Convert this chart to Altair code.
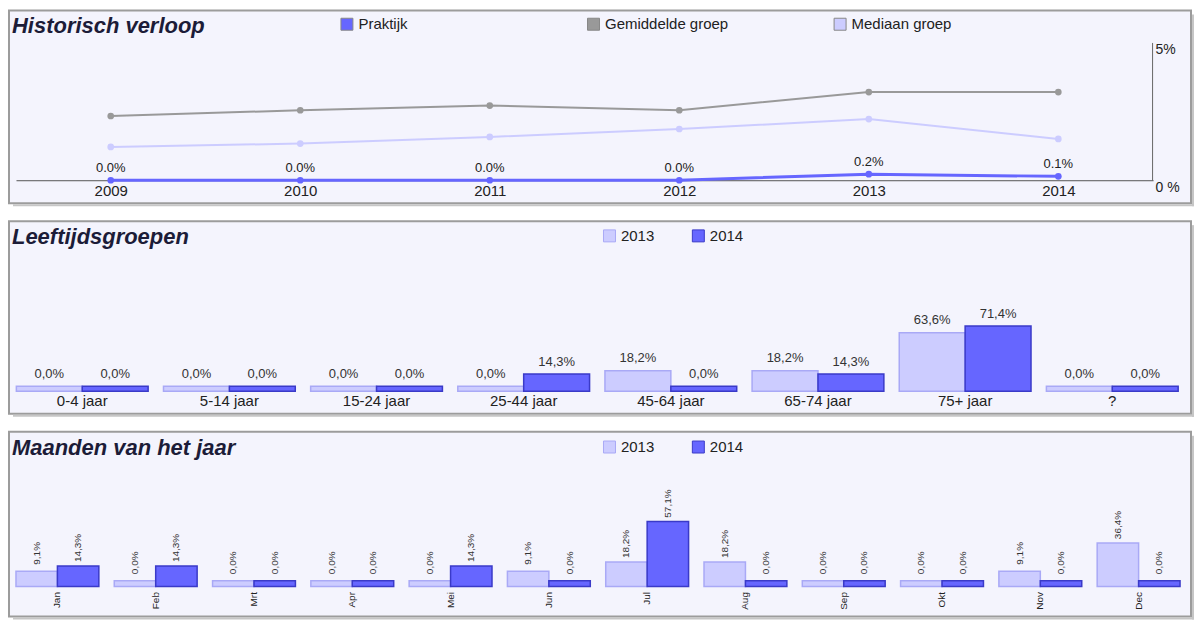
import altair as alt
import pandas as pd

# ---------------- data ----------------
years = [2009, 2010, 2011, 2012, 2013, 2014]
praktijk = [0.0, 0.0, 0.0, 0.0, 0.22, 0.14]
gemiddelde = [2.33, 2.54, 2.71, 2.54, 3.20, 3.20]
mediaan = [1.21, 1.33, 1.57, 1.86, 2.22, 1.50]
series_names = ["Praktijk", "Gemiddelde groep", "Mediaan groep"]
series_colors = ["#6666ff", "#999999", "#ccccff"]
series_widths = [3, 2, 2]

age_groups = ["0-4 jaar", "5-14 jaar", "15-24 jaar", "25-44 jaar",
              "45-64 jaar", "65-74 jaar", "75+ jaar", "?"]
age_2013 = [0.0, 0.0, 0.0, 0.0, 18.2, 18.2, 63.6, 0.0]
age_2014 = [0.0, 0.0, 0.0, 14.3, 0.0, 14.3, 71.4, 0.0]

months = ["Jan", "Feb", "Mrt", "Apr", "Mei", "Jun",
          "Jul", "Aug", "Sep", "Okt", "Nov", "Dec"]
month_2013 = [9.1, 0.0, 0.0, 0.0, 0.0, 9.1, 18.2, 18.2, 0.0, 0.0, 9.1, 36.4]
month_2014 = [14.3, 14.3, 0.0, 0.0, 14.3, 0.0, 57.1, 0.0, 0.0, 0.0, 0.0, 0.0]

bar_years = ["2013", "2014"]
bar_fill = ["#ccccff", "#6666ff"]
bar_stroke = ["#a9a9f6", "#3a3ac8"]

titles = ["Historisch verloop", "Leeftijdsgroepen", "Maanden van het jaar"]

# ---------------- styling ----------------
W = 1184
H1, H2, H3 = 193, 193, 185
FONT = "Liberation Sans"
TXT = "#222222"
SHADOW = "#c6c6c6"


def title_layer(text):
    return alt.Chart(pd.DataFrame({"t": [text]})).mark_text(
        align="left", baseline="alphabetic", fontSize=22, fontStyle="italic",
        fontWeight="bold", color="#1c1c38", font=FONT).encode(
        x=alt.value(3), y=alt.value(23), text="t:N")


def shadow_layers(w, h):
    base = alt.Chart(pd.DataFrame({"s": [0]}))
    right = base.mark_rect(color=SHADOW).encode(
        x=alt.value(w + 1), x2=alt.value(w + 3),
        y=alt.value(4), y2=alt.value(h + 3))
    bottom = base.mark_rect(color=SHADOW).encode(
        x=alt.value(4), x2=alt.value(w + 3),
        y=alt.value(h + 1), y2=alt.value(h + 3))
    return [right, bottom]


def square_legend(lx, ly, col_pad, grid="each"):
    return alt.Legend(title=None, orient="none", legendX=lx, legendY=ly,
                      direction="horizontal", symbolType="square",
                      symbolSize=144, symbolStrokeColor="#888888",
                      symbolStrokeWidth=1, labelFontSize=15,
                      labelColor=TXT, labelOffset=4, columnPadding=col_pad,
                      gridAlign=grid, padding=0, labelFont=FONT)


# ---------------- panel 1: Historisch verloop ----------------
hist = pd.DataFrame({
    "jaar": years * 3,
    "reeks": [n for n in series_names for _ in years],
    "waarde": praktijk + gemiddelde + mediaan,
})

X1 = alt.X("jaar:O",
           scale=alt.Scale(type="point", range=[7, 1146], padding=0.5),
           axis=alt.Axis(orient="bottom", offset=-23, domainColor="#555555",
                         domainWidth=1, ticks=False, grid=False, labelAngle=0,
                         labelFontSize=15, labelColor=TXT, labelPadding=3,
                         labelFont=FONT, title=None))
Y1 = alt.Y("waarde:Q",
           scale=alt.Scale(domain=[0, 5], range=[170, 32], nice=False),
           axis=alt.Axis(orient="right", offset=-39, values=[0, 5],
                         labelExpr="datum.value == 0 ? '0 %' : '5%'",
                         ticks=False, grid=False, domainColor="#666666",
                         domainWidth=1, labelBaseline="top", labelAlign="left",
                         labelPadding=3, labelFontSize=14, labelColor=TXT,
                         labelFont=FONT, title=None))
color_scale = alt.Scale(domain=series_names, range=series_colors)

# one line per series, drawn back to front (Praktijk on top)
line_layers = []
for name, col, sw in reversed(list(zip(series_names, series_colors,
                                       series_widths))):
    line_layers.append(
        alt.Chart(hist).transform_filter(alt.datum.reeks == name)
        .mark_line(color=col, strokeWidth=sw)
        .encode(x=X1, y=Y1))

pts = alt.Chart(hist).mark_circle(size=45, opacity=1).encode(
    x=X1, y=Y1,
    color=alt.Color("reeks:N", scale=color_scale,
                    legend=square_legend(331, 6, 103, "all")))
lbl1 = alt.Chart(hist).transform_filter(
    "datum.reeks == 'Praktijk'").transform_calculate(
    lbl="format(datum.waarde, '.1f') + '%'").mark_text(
    fontSize=13, dy=-12, color=TXT, baseline="middle", font=FONT).encode(
    x=X1, y=Y1, text="lbl:N")

panel1 = alt.layer(*shadow_layers(W, H1), *line_layers, pts, lbl1,
                   title_layer(titles[0])).properties(width=W, height=H1)

# ---------------- panel 2: Leeftijdsgroepen ----------------
n_age = len(age_groups)
age_df = pd.DataFrame({
    "groep": age_groups * 2,
    "jaar": [bar_years[0]] * n_age + [bar_years[1]] * n_age,
    "pct": age_2013 + age_2014,
})

X2 = alt.X("groep:N", sort=age_groups,
           scale=alt.Scale(range=[0, 1178.5], paddingInner=0.1045,
                           paddingOuter=0.05),
           axis=alt.Axis(orient="bottom", offset=-22.5, domain=False,
                         ticks=False, grid=False, labelAngle=0,
                         labelFontSize=15, labelColor=TXT, labelPadding=2,
                         labelFont=FONT, title=None))
XO2 = alt.XOffset("jaar:N", scale=alt.Scale(domain=bar_years,
                                            paddingInner=0, paddingOuter=0))
Y2 = alt.Y("pct:Q", scale=alt.Scale(domain=[-32.9, 196.1], nice=False,
                                    zero=False), axis=None)

bars2 = alt.Chart(age_df).mark_bar(strokeWidth=1.5, opacity=1).encode(
    x=X2, xOffset=XO2, y=Y2, y2=alt.datum(-6.2),
    fill=alt.Fill("jaar:N", scale=alt.Scale(domain=bar_years, range=bar_fill),
                  legend=square_legend(594, 7, 35)),
    stroke=alt.Stroke("jaar:N", scale=alt.Scale(domain=bar_years,
                                                range=bar_stroke),
                      legend=None))
txt2 = alt.Chart(age_df).transform_calculate(
    lbl="replace(format(datum.pct, '.1f'), '.', ',') + '%'").mark_text(
    fontSize=13, dy=-12.5, color="#333333", baseline="middle",
    font=FONT).encode(x=X2, xOffset=XO2, y=Y2, text="lbl:N")

panel2 = alt.layer(*shadow_layers(W, H2), bars2, txt2,
                   title_layer(titles[1])).properties(width=W, height=H2)

# ---------------- panel 3: Maanden van het jaar ----------------
n_m = len(months)
month_df = pd.DataFrame({
    "maand": months * 2,
    "jaar": [bar_years[0]] * n_m + [bar_years[1]] * n_m,
    "pct": month_2013 + month_2014,
})

X3 = alt.X("maand:N", sort=months,
           scale=alt.Scale(range=[0, 1180], paddingInner=0.157,
                           paddingOuter=0.071),
           axis=alt.Axis(orient="bottom", offset=-30, domain=False,
                         ticks=False, grid=False, labelAngle=270,
                         labelFontSize=10, labelColor=TXT, labelPadding=5,
                         labelFont=FONT, title=None))
XO3 = alt.XOffset("jaar:N", scale=alt.Scale(domain=bar_years,
                                            paddingInner=0, paddingOuter=0))
Y3 = alt.Y("pct:Q", scale=alt.Scale(domain=[-34.4, 143.5], nice=False,
                                    zero=False), axis=None)

bars3 = alt.Chart(month_df).mark_bar(strokeWidth=1.5, opacity=1).encode(
    x=X3, xOffset=XO3, y=Y3, y2=alt.datum(-5.6),
    fill=alt.Fill("jaar:N", scale=alt.Scale(domain=bar_years, range=bar_fill),
                  legend=square_legend(594, 7.5, 35)),
    stroke=alt.Stroke("jaar:N", scale=alt.Scale(domain=bar_years,
                                                range=bar_stroke),
                      legend=None))
txt3 = alt.Chart(month_df).transform_calculate(
    lbl="replace(format(datum.pct, '.1f'), '.', ',') + '%'").mark_text(
    fontSize=10, angle=270, align="center", baseline="middle", dx=18,
    color="#333333", font=FONT).encode(x=X3, xOffset=XO3, y=Y3,
                                        text="lbl:N")

panel3 = alt.layer(*shadow_layers(W, H3), bars3, txt3,
                   title_layer(titles[2])).properties(width=W, height=H3)

# ---------------- assemble ----------------
chart = alt.vconcat(panel1, panel2, panel3, spacing=13).resolve_scale(
    x="independent", y="independent", xOffset="independent",
    color="independent", fill="independent", stroke="independent"
).resolve_legend(
    color="independent", fill="independent", stroke="independent"
).properties(
    padding={"left": 0, "top": 1, "right": 0, "bottom": 0}
).configure(font=FONT, background="white").configure_view(
    stroke="#9c9c9c", strokeWidth=2, fill="#f4f4fd")

chart.save("out.html", embed_options={"renderer": "svg", "actions": False})
